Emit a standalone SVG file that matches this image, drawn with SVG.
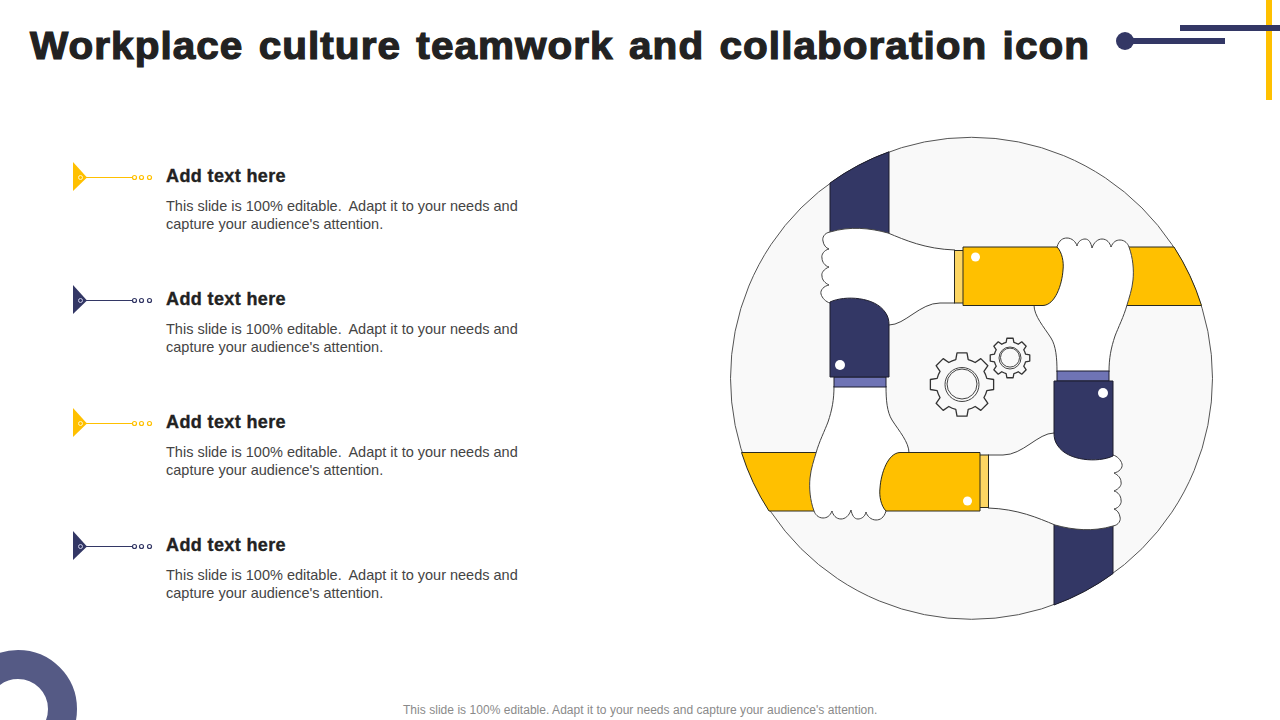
<svg xmlns="http://www.w3.org/2000/svg" width="1280" height="720" viewBox="0 0 1280 720">
<style>
text{font-family:"Liberation Sans",Arial,sans-serif}
.title{font-size:39px;font-weight:700;fill:#222;stroke:#222;stroke-width:1.2px;letter-spacing:1px;word-spacing:3px}
.head{font-size:18px;font-weight:700;fill:#222;stroke:#222;stroke-width:.35px;letter-spacing:.38px}
.body{font-size:14.5px;fill:#444}
.foot{font-size:12px;fill:#8a8a8a;letter-spacing:.035px}
.navy{fill:#333765;stroke:#1c1c2c;stroke-width:1}
.yel{fill:#ffc000;stroke:#2a2a20;stroke-width:1}
.hand{fill:#fff;stroke:#444;stroke-width:1}
.cy{fill:#fdd663;stroke:#2a2a20;stroke-width:1}
.cn{fill:#6f74b5;stroke:#1c1c2c;stroke-width:1}
.dot{fill:#fff}
.gear{fill:#f9f9f9;stroke:#333;stroke-linejoin:round}
.gi{fill:#f9f9f9;stroke:#444}
.my{stroke:#ffc000;fill:none;stroke-width:1.200}
.mn{stroke:#333765;fill:none;stroke-width:1.200}
</style>
<defs>
<path id="hand-a" class="hand" d="M955 250C925 249 905 240 888 233C870 228 850 226 830 232C824 233 822 238 823 241C823.500 245 826 248 829 249C824 250 821 255 822 258C822 262 825 266 829 267C824 269 821 273 822 276C822 280 825 283 829 285C824 286 820 290 821 294C822 298 826 302 830 303L889 325C905 325 920 303 940 303L955 303Z"/>
<path id="hand-b" class="hand" d="M1057 247C1059 240 1063 238 1067 238C1072 238 1076 242 1077 246C1078 241 1082 239 1085 239C1089 239 1091 243 1092 248C1094 242 1098 239 1102 239C1107 239 1110 243 1111 247C1113 242 1116 240 1120 240C1125 240 1128 244 1129 247C1133 258 1134 270 1133 280C1132 290 1129 298 1127 305C1124 316 1118 328 1115 336C1111 348 1109 358 1109 372L1057 372C1057 358 1056 346 1051 338C1044 327 1034 316 1034 305Z"/>
<path id="ys" class="yel" d="M963 247L1057 247C1062 252 1064 262 1063 270C1062 285 1055 305 1043 305.500L963 305.500Z"/>
<path id="ns" class="navy" d="M830 302C845 295 875 297 885 312C888 316 889 320 889 325L889 377L830 377Z"/>
<path id="gear" d="M.194 -.776A.8 .8 0 0 1 .412 -.686L.588 -.809L.809 -.588L.686 -.412A.8 .8 0 0 1 .776 -.194L.988 -.156L.988 .156L.776 .194A.8 .8 0 0 1 .686 .412L.809 .588L.588 .809L.412 .686A.8 .8 0 0 1 .194 .776L.156 .988L-.156 .988L-.194 .776A.8 .8 0 0 1 -.412 .686L-.588 .809L-.809 .588L-.686 .412A.8 .8 0 0 1 -.776 .194L-.988 .156L-.988 -.156L-.776 -.194A.8 .8 0 0 1 -.686 -.412L-.809 -.588L-.588 -.809L-.412 -.686A.8 .8 0 0 1 -.194 -.776L-.156 -.988L.156 -.988Z" vector-effect="non-scaling-stroke"/>
</defs>
<g id="decor-top">
<rect x="1266" y="0" width="6" height="100" fill="#ffc000"/>
<rect x="1180" y="25" width="100" height="6" fill="#333765"/>
<circle cx="1125" cy="41" r="9" fill="#333765"/>
<rect x="1125" y="38" width="100" height="6" fill="#333765"/>
</g>
<circle id="decor-ring" cx="18" cy="709" r="44.500" fill="none" stroke="#555a85" stroke-width="29"/>
<text class="title" x="30" y="59" textLength="1060" lengthAdjust="spacingAndGlyphs">Workplace culture teamwork and collaboration icon</text>

<g id="item-1">
<path d="M73 162L87 177.500L73 191Z" fill="#ffc000"/><circle cx="80.500" cy="177.500" r="2" fill="none" stroke="#fff3c4"/>
<path class="my" d="M86 177.500H132"/><circle class="my" cx="134.500" cy="177.500" r="2"/><circle class="my" cx="141.500" cy="177.500" r="2"/><circle class="my" cx="149.500" cy="177.500" r="2"/>
<text class="head" x="166" y="182">Add text here</text>
<text class="body" x="166" y="211">This slide is 100% editable. <tspan dx="3.500">Adapt it to your needs and</tspan></text>
<text class="body" x="166" y="229">capture your audience's attention.</text>
</g>
<g id="item-2">
<path d="M73 285L87 300.500L73 314Z" fill="#333765"/><circle cx="80.500" cy="300.500" r="2" fill="none" stroke="#c9cbe6"/>
<path class="mn" d="M86 300.500H132"/><circle class="mn" cx="134.500" cy="300.500" r="2"/><circle class="mn" cx="141.500" cy="300.500" r="2"/><circle class="mn" cx="149.500" cy="300.500" r="2"/>
<text class="head" x="166" y="305">Add text here</text>
<text class="body" x="166" y="334">This slide is 100% editable. <tspan dx="3.500">Adapt it to your needs and</tspan></text>
<text class="body" x="166" y="352">capture your audience's attention.</text>
</g>
<g id="item-3">
<path d="M73 408L87 423.500L73 437Z" fill="#ffc000"/><circle cx="80.500" cy="423.500" r="2" fill="none" stroke="#fff3c4"/>
<path class="my" d="M86 423.500H132"/><circle class="my" cx="134.500" cy="423.500" r="2"/><circle class="my" cx="141.500" cy="423.500" r="2"/><circle class="my" cx="149.500" cy="423.500" r="2"/>
<text class="head" x="166" y="428">Add text here</text>
<text class="body" x="166" y="457">This slide is 100% editable. <tspan dx="3.500">Adapt it to your needs and</tspan></text>
<text class="body" x="166" y="475">capture your audience's attention.</text>
</g>
<g id="item-4">
<path d="M73 531L87 546.500L73 560Z" fill="#333765"/><circle cx="80.500" cy="546.500" r="2" fill="none" stroke="#c9cbe6"/>
<path class="mn" d="M86 546.500H132"/><circle class="mn" cx="134.500" cy="546.500" r="2"/><circle class="mn" cx="141.500" cy="546.500" r="2"/><circle class="mn" cx="149.500" cy="546.500" r="2"/>
<text class="head" x="166" y="551">Add text here</text>
<text class="body" x="166" y="580">This slide is 100% editable. <tspan dx="3.500">Adapt it to your needs and</tspan></text>
<text class="body" x="166" y="598">capture your audience's attention.</text>
</g>

<g id="illustration">
<circle cx="971.500" cy="378.300" r="241" fill="#f9f9f9" stroke="#555" stroke-width="1"/>
<path class="navy" d="M830 183A241 241 0 0 1 889 151.800L889 260L830 260Z"/>
<path class="navy" d="M1113 573.600A241 241 0 0 1 1054 605L1054 500L1113 500Z"/>
<path class="yel" d="M1100 247L1174 247A241 241 0 0 1 1201.500 305.500L1100 305.500Z"/>
<path class="yel" d="M843 511L769 511A241 241 0 0 1 741.500 452.500L843 452.500Z"/>
<use href="#hand-a"/>
<use href="#hand-a" transform="rotate(180 971.500 379)"/>
<use href="#hand-b"/>
<use href="#hand-b" transform="rotate(180 971.500 379)"/>
<g id="sleeve-1">
<rect class="cy" x="954.500" y="250.500" width="9" height="52.500"/>
<use href="#ys"/><circle class="dot" cx="975.500" cy="257" r="4.500"/>
</g>
<g id="sleeve-2" transform="rotate(180 971.500 379)">
<rect class="cy" x="954.500" y="250.500" width="9" height="52.500"/>
<use href="#ys"/><circle class="dot" cx="975.500" cy="257" r="4.500"/>
</g>
<g id="sleeve-3">
<rect class="cn" x="834" y="377" width="52" height="10"/>
<use href="#ns"/><circle class="dot" cx="840" cy="365" r="5"/>
</g>
<g id="sleeve-4" transform="rotate(180 971.500 379)">
<rect class="cn" x="834" y="377" width="52" height="10"/>
<use href="#ns"/><circle class="dot" cx="840" cy="365" r="5"/>
</g>
<g id="gear-large">
<use href="#gear" class="gear" stroke-width="1.300" transform="translate(962 384.500) scale(32)"/>
<circle class="gi" cx="962" cy="384.500" r="17"/><circle class="gi" cx="962" cy="384" r="15"/>
</g>
<g id="gear-small">
<use href="#gear" class="gear" stroke-width="1.300" transform="translate(1010 358) scale(20)"/>
<circle class="gi" cx="1010" cy="358" r="11"/><circle class="gi" cx="1010" cy="357.600" r="9.500"/>
</g>
</g>
<text class="foot" x="403" y="714">This slide is 100% editable. Adapt it to your needs and capture your audience's attention.</text>
</svg>
